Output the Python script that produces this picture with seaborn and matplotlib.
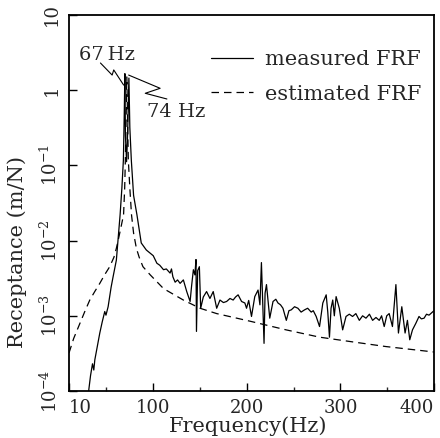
import numpy as np
import pandas as pd
import seaborn as sns
import matplotlib
matplotlib.use("Agg")
import matplotlib.pyplot as plt

# measured FRF
freq_meas = [30.5, 33, 35.1, 36.5, 37.6, 40, 42.9, 45.5, 48.2, 49.5, 51.8, 55, 57.1, 60.6, 62.6,
             64.6, 66.5, 68.1, 69.0, 69.7, 70.3, 71.5, 72.3, 73.0, 74.0, 75.0, 76.6, 79, 82.6, 87.2,
             92.6, 96.8, 100, 103.9, 107, 111, 114, 118, 119.5, 121, 123.4, 126, 128.7, 132.2, 135.8,
             139.4, 141, 142.9, 144.5, 145.7, 146.2, 147.5, 149.3, 150.7, 153.5, 157, 160.6, 164.1,
             167.8, 171.3, 175, 178.4, 182, 185.4, 188, 190.7, 194.4, 197.9, 199.7, 202, 205, 208.5,
             212, 214, 215.6, 218.4, 219.5, 221, 224.5, 228, 231, 233.3, 236, 238.6, 242.2, 245,
             247.5, 251, 254.6, 258, 261.7, 265, 268.8, 271, 274.1, 277.7, 281.2, 284.8, 286.5,
             288.3, 290, 291.8, 293.5, 295.4, 298.8, 302.4, 306, 309.5, 313, 316.5, 320.2, 323.7,
             327.3, 331, 334.4, 338, 341.5, 344, 346.8, 349.5, 352.1, 355.6, 359.3, 362, 365.6,
             369.1, 371.6, 374.1, 377, 380.5, 384, 386.5, 389.4, 392, 394.7, 398.2, 400]
recept_meas = [8.9e-5, 1.6e-4, 2.3e-4, 1.9e-4, 2.6e-4, 3.8e-4, 5.9e-4, 8.3e-4, 1.14e-3, 1.02e-3,
               1.32e-3, 2.4e-3, 3.3e-3, 5.5e-3, 1.12e-2, 2.2e-2, 5.0e-2, 0.117, 0.45, 1.66, 0.25,
               0.112, 0.2, 0.4, 1.45, 0.32, 0.117, 0.04, 0.022, 9.3e-3, 7.5e-3, 6.8e-3, 6.3e-3,
               5.0e-3, 4.7e-3, 4.1e-3, 4.2e-3, 3.7e-3, 4.2e-3, 3.3e-3, 2.8e-3, 3.0e-3, 2.7e-3,
               3.0e-3, 2.1e-3, 1.55e-3, 2.5e-3, 4.1e-3, 3.5e-3, 5.6e-3, 6.2e-4, 4.0e-3, 4.5e-3,
               1.26e-3, 1.78e-3, 2.1e-3, 1.7e-3, 2.1e-3, 1.26e-3, 1.62e-3, 1.5e-3, 1.55e-3, 1.7e-3,
               1.62e-3, 1.78e-3, 1.9e-3, 1.55e-3, 1.48e-3, 1.26e-3, 1.6e-3, 9.8e-4, 1.8e-3, 2.2e-3,
               1.4e-3, 5.1e-3, 4.3e-4, 2.0e-3, 2.6e-3, 9.3e-4, 1.55e-3, 1.66e-3, 1.48e-3, 1.4e-3,
               1.26e-3, 8.7e-4, 1.17e-3, 1.2e-3, 1.32e-3, 1.26e-3, 1.12e-3, 1.2e-3, 1.26e-3, 1.12e-3,
               1.17e-3, 9.8e-4, 7.2e-4, 1.48e-3, 1.9e-3, 1.12e-3, 5.2e-4, 1.26e-3, 1.62e-3, 1.0e-3,
               1.8e-3, 1.26e-3, 6.5e-4, 9.8e-4, 1.05e-3, 9.8e-4, 1.07e-3, 8.7e-4, 1.0e-3, 9.3e-4,
               1.05e-3, 8.7e-4, 9.5e-4, 8.7e-4, 1.0e-3, 7.2e-4, 1.0e-3, 1.07e-3, 7.2e-4, 2.6e-3,
               5.9e-4, 1.32e-3, 5.9e-4, 8.7e-4, 4.8e-4, 6.5e-4, 7.9e-4, 9.8e-4, 9.1e-4, 9.3e-4,
               1.05e-3, 1.02e-3, 1.12e-3, 1.17e-3]

# estimated FRF
freq_est = [10, 11, 15, 21.6, 27, 32.2, 37.5, 42.9, 48, 53.5, 58, 60.6, 63, 65, 68.3, 69.5, 70.2,
            71.0, 71.8, 72.6, 73.4, 75, 76.8, 79, 82, 85, 89, 96.8, 111, 132.2, 150, 167.8, 203,
            242, 277.7, 313, 348.6, 400]
recept_est = [3.2e-4, 3.5e-4, 5.0e-4, 7.9e-4, 1.15e-3, 1.62e-3, 2.1e-3, 2.7e-3, 3.5e-3, 4.5e-3,
              6.0e-3, 7.9e-3, 1.07e-2, 1.4e-2, 2.2e-2, 0.05, 0.117, 0.4, 1.5, 0.4, 0.117, 0.05,
              0.022, 1.26e-2, 7.9e-3, 6.0e-3, 4.5e-3, 3.5e-3, 2.3e-3, 1.62e-3, 1.26e-3, 1.07e-3,
              8.5e-4, 6.5e-4, 5.2e-4, 4.5e-4, 3.9e-4, 3.3e-4]

xtick_vals = [10, 100, 200, 300, 400]
xminor_vals = [50, 150, 250, 350]
ytick_vals = [1e-4, 1e-3, 1e-2, 1e-1, 1, 10]
ytick_labels = [r"$\mathdefault{10^{-4}}$", r"$\mathdefault{10^{-3}}$", r"$\mathdefault{10^{-2}}$",
                r"$\mathdefault{10^{-1}}$", "1", "10"]

# annotation leader lines (zigzags)
lead67_x = [43.6, 56.1, 57.8, 68.4]
lead67_y = [2.30, 1.59, 1.86, 1.17]
lead74_x = [73.7, 107.4, 91.5, 114.6]
lead74_y = [1.59, 1.06, 0.91, 0.764]

meas = pd.DataFrame({"Frequency": freq_meas, "Receptance": recept_meas})
est = pd.DataFrame({"Frequency": freq_est, "Receptance": recept_est})

sns.set_style("ticks")
plt.rcParams["font.family"] = ["DejaVu Serif"]
plt.rcParams["mathtext.fontset"] = "dejavuserif"

fig = plt.figure(figsize=(4.4, 4.38), dpi=100)
ax = fig.add_axes([69 / 440, 1 - 391 / 438, 365 / 440, 376 / 438])

sns.lineplot(x="Frequency", y="Receptance", data=meas, color="black", lw=0.9,
             estimator=None, sort=False, label="measured FRF", ax=ax)
sns.lineplot(x="Frequency", y="Receptance", data=est, color="black", lw=0.9,
             linestyle=(0, (6, 4)), estimator=None, sort=False, label="estimated FRF", ax=ax)

ax.plot(lead67_x, lead67_y, color="black", lw=0.8)
ax.plot(lead74_x, lead74_y, color="black", lw=0.8)
ax.text(20.2, 2.94, "67\u2009Hz", fontsize=14, va="center", ha="left")
ax.text(93.8, 0.51, "74 Hz", fontsize=14, va="center", ha="left")

ax.set_yscale("log")
ax.set_xlim(10, 400)
ax.set_ylim(1e-4, 10)
ax.set_xticks(xtick_vals)
ax.set_xticklabels([str(v) for v in xtick_vals])
ax.set_xticks(xminor_vals, minor=True)
ax.set_yticks(ytick_vals)
ax.set_yticklabels(ytick_labels)
ax.yaxis.set_minor_locator(matplotlib.ticker.NullLocator())
ax.tick_params(axis="both", which="major", direction="in", length=6, width=1, labelsize=13,
               pad=6, color="black")
ax.tick_params(axis="x", which="minor", direction="in", length=3, width=1)
ax.tick_params(axis="y", labelrotation=90)
for lab in ax.get_yticklabels():
    lab.set_va("center")
xlabs = ax.get_xticklabels()
xlabs[0].set_ha("left")
xlabs[-1].set_ha("right")

for s in ax.spines.values():
    s.set_visible(True)
    s.set_linewidth(1.3)
    s.set_color("black")

ax.set_xlabel("Frequency(Hz)", fontsize=15)
ax.set_ylabel("Receptance (m/N)", fontsize=15)
ax.xaxis.set_label_coords(0.49, -0.068)
ax.yaxis.set_label_coords(-0.115, 0.37)

ax.legend(loc="upper right", bbox_to_anchor=(1.0, 0.94), frameon=False, fontsize=15,
          handlelength=2.0, handletextpad=0.6, labelspacing=0.75, borderaxespad=0.2)

plt.savefig("out.png", dpi=100)
